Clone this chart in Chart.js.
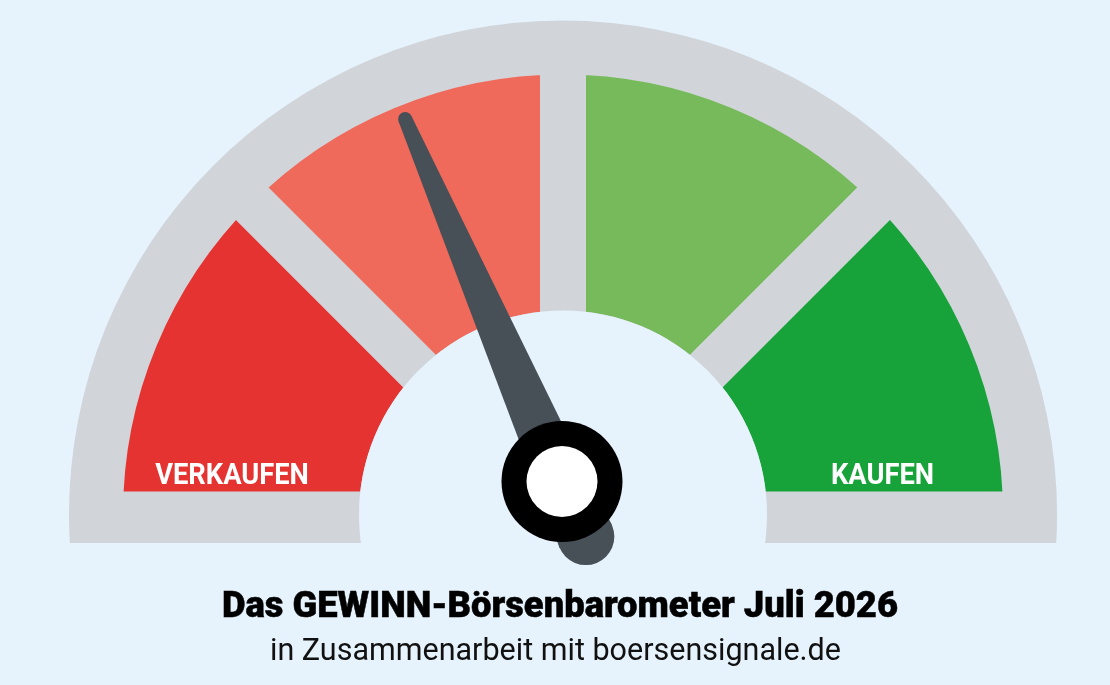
<!DOCTYPE html>
<html lang="de">
<head>
<meta charset="utf-8">
<title>GEWINN-Börsenbarometer</title>
<script src="https://cdn.jsdelivr.net/npm/chart.js@4.4.1/dist/chart.umd.min.js"></script>
<style>
  html, body { margin: 0; padding: 0; background: #E6F3FC; }
  #wrap { position: relative; width: 1110px; height: 685px; overflow: hidden; background: #E6F3FC; }
  #gauge { position: absolute; left: 0; top: 0; }
  .txt { position: absolute; white-space: nowrap; color: #000; font-family: Roboto, "Noto Sans", sans-serif; line-height: 1; transform-origin: 0 0; }
  #title { font-weight: 900; font-size: 36px; top: 587px; -webkit-text-stroke: 0.5px #000; }
  #subtitle { font-weight: 400; font-size: 32px; top: 633px; color: #111; }
</style>
</head>
<body>
<div id="wrap">
  <canvas id="gauge" width="1110" height="685"></canvas>
  <div id="title" class="txt"></div>
  <div id="subtitle" class="txt"></div>
</div>
<script>
// Daten
const zoneLabels = ['VERKAUFEN', '', '', 'KAUFEN'];
const zoneValues = [25, 25, 25, 25];
const zoneColors = ['#E53331', '#EF6A5B', '#77BA5B', '#17A33A'];
const needleValue = 37;      // Skala 0 (links) bis 100 (rechts)
const titleText = 'Das GEWINN-Börsenbarometer Juli 2026';
const subtitleText = 'in Zusammenarbeit mit boersensignale.de';

// Farben / Maße
const bgColor = '#E6F3FC';
const greyColor = '#D1D5DA';
const needleColor = '#474F57';
const GAP = 46;

// grauer Bogen hinter den Segmenten
const bandPlugin = {
    id: 'band',
    beforeDatasetsDraw(chart) {
        const a = chart.getDatasetMeta(0).data[0];
        const ctx = chart.ctx;
        const outer = a.outerRadius - GAP / 2 + 54;
        const inner = a.innerRadius + GAP / 2;
        ctx.save();
        ctx.beginPath();
        ctx.rect(0, 0, chart.width, a.y + 28.5);
        ctx.clip();
        ctx.beginPath();
        ctx.arc(a.x, a.y, outer, Math.PI - 0.2, 2 * Math.PI + 0.2);
        ctx.arc(a.x, a.y, inner, 2 * Math.PI + 0.2, Math.PI - 0.2, true);
        ctx.closePath();
        ctx.fillStyle = greyColor;
        ctx.fill();
        ctx.restore();
    }
};

// Loch, Beschriftung, Zeiger
const needlePlugin = {
    id: 'needle',
    afterDatasetsDraw(chart) {
        const meta = chart.getDatasetMeta(0);
        const a = meta.data[0];
        const ctx = chart.ctx;
        const inner = a.innerRadius + GAP / 2;

        ctx.save();
        // Loch in der Mitte
        ctx.beginPath();
        ctx.arc(a.x, a.y, inner, 0, 2 * Math.PI);
        ctx.fillStyle = bgColor;
        ctx.fill();

        // Zonenbeschriftung
        ctx.fillStyle = '#FFFFFF';
        ctx.font = '700 30px Roboto, "Noto Sans", sans-serif';
        ctx.textAlign = 'center';
        ctx.textBaseline = 'alphabetic';
        const offsets = [-331, 0, 0, 319.5];
        zoneLabels.forEach((lbl, i) => {
            if (!lbl) return;
            ctx.save();
            ctx.translate(a.x + offsets[i], a.y - 31);
            ctx.scale(0.91, 1);
            ctx.fillText(lbl, 0, 0);
            ctx.restore();
        });

        // Zeiger
        const hub = { x: a.x - 1, y: a.y - 33 };
        const ang = Math.PI + (needleValue / 100) * Math.PI;
        const dx = Math.cos(ang), dy = Math.sin(ang);
        const nx = -dy, ny = dx;
        const tip = { x: hub.x + dx * 395, y: hub.y + dy * 395, r: 7 };
        const tail = { x: hub.x - dx * 60, y: hub.y - dy * 60, r: 28.5 };
        ctx.fillStyle = needleColor;
        ctx.beginPath();
        ctx.moveTo(tip.x + nx * tip.r, tip.y + ny * tip.r);
        ctx.lineTo(tail.x + nx * tail.r, tail.y + ny * tail.r);
        ctx.lineTo(tail.x - nx * tail.r, tail.y - ny * tail.r);
        ctx.lineTo(tip.x - nx * tip.r, tip.y - ny * tip.r);
        ctx.closePath();
        ctx.fill();
        ctx.beginPath();
        ctx.arc(tip.x, tip.y, tip.r, 0, 2 * Math.PI);
        ctx.fill();
        ctx.beginPath();
        ctx.arc(tail.x, tail.y, tail.r, 0, 2 * Math.PI);
        ctx.fill();

        // Nabe
        ctx.beginPath();
        ctx.arc(hub.x, hub.y, 60.5, 0, 2 * Math.PI);
        ctx.fillStyle = '#000000';
        ctx.fill();
        ctx.beginPath();
        ctx.arc(hub.x, hub.y, 35.5, 0, 2 * Math.PI);
        ctx.fillStyle = '#FFFFFF';
        ctx.fill();
        ctx.restore();
    }
};

function initializeApp() {
    const canvas = document.getElementById('gauge');
    const arcRadius = 440 + GAP / 2;
    new Chart(canvas, {
        type: 'doughnut',
        data: {
            labels: zoneLabels,
            datasets: [{
                data: zoneValues,
                backgroundColor: zoneColors,
                borderColor: greyColor,
                borderWidth: GAP,
                borderJoinStyle: 'miter'
            }]
        },
        options: {
            responsive: false,
            animation: false,
            events: [],
            rotation: -90,
            circumference: 180,
            radius: arcRadius,
            cutout: ((204 - GAP / 2) / arcRadius * 100) + '%',
            layout: { padding: { left: 16, right: 0, top: 0, bottom: 119 } },
            plugins: {
                legend: { display: false },
                tooltip: { enabled: false },
                title: { display: false }
            }
        },
        plugins: [bandPlugin, needlePlugin]
    });

    // Titel und Untertitel auf Breite bringen
    const fit = (id, text, left, width) => {
        const el = document.getElementById(id);
        el.textContent = text;
        const w = el.getBoundingClientRect().width;
        el.style.left = left + 'px';
        el.style.transform = 'scaleX(' + (width / w) + ')';
    };
    fit('title', titleText, 221.5, 676);
    fit('subtitle', subtitleText, 270, 571);
}

document.addEventListener('DOMContentLoaded', initializeApp);
</script>
</body>
</html>
